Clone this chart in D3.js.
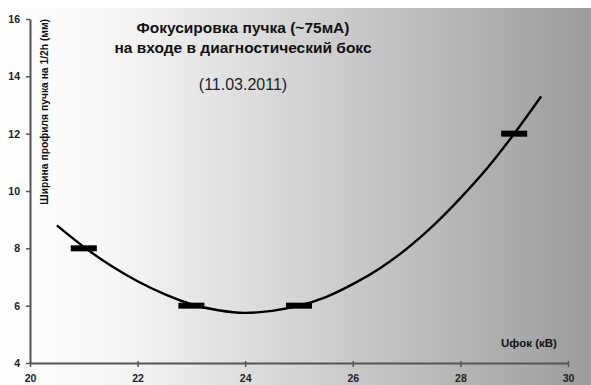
<!DOCTYPE html>
<html>
<head>
<meta charset="utf-8">
<script src="https://cdn.jsdelivr.net/npm/d3@7"></script>
<style>
  html, body { margin: 0; padding: 0; background: #fff; }
  svg { display: block; }
</style>
</head>
<body>
<svg id="chart"></svg>
<script>
// measured points (width of beam profile at 1/2h)
const pointX = [21, 23, 25, 29];
const pointY = [8, 6, 6, 12];

// fitted trend curve
const curveX = [20.5, 21, 21.5, 22, 22.5, 23, 23.5, 24, 24.5, 25, 25.5, 26, 26.5, 27, 27.5, 28, 28.5, 29, 29.5];
const curveY = [8.8, 8.05, 7.4, 6.85, 6.4, 6.05, 5.84, 5.75, 5.82, 6.0, 6.3, 6.75, 7.3, 7.98, 8.8, 9.75, 10.8, 12.0, 13.3];

const xTicks = [20, 22, 24, 26, 28, 30];
const yTicks = [4, 6, 8, 10, 12, 14, 16];

const titleLines = ['Фокусировка пучка (~75мА)', 'на входе в диагностический бокс'];
const dateLabel = '(11.03.2011)';
const yLabel = 'Ширина профиля пучка на 1/2h (мм)';
const xLabel = 'Uфок (кВ)';

const W = 591, H = 385;
const FONT = "'Liberation Sans', Arial, sans-serif";

const svg = d3.select('#chart').attr('width', W).attr('height', H);
const defs = svg.append('defs');

const grad = defs.append('linearGradient')
  .attr('id', 'bg').attr('x1', '0%').attr('x2', '100%').attr('y1', '0%').attr('y2', '0%');
grad.append('stop').attr('offset', '0%').attr('stop-color', '#ffffff');
grad.append('stop').attr('offset', '20%').attr('stop-color', '#f6f6f6');
grad.append('stop').attr('offset', '100%').attr('stop-color', '#9c9c9c');

// background panel
svg.append('rect')
  .attr('x', 0).attr('y', 8).attr('width', W).attr('height', H - 8)
  .attr('fill', 'url(#bg)');

const x = d3.scaleLinear().domain([20, 30]).range([30, 568]);
const y = d3.scaleLinear().domain([4, 16]).range([363, 19]);

// X axis
svg.append('g')
  .attr('transform', `translate(0,${y(4)})`)
  .call(d3.axisBottom(x).tickValues(xTicks).tickSize(4).tickPadding(8).tickSizeOuter(0))
  .call(g => g.select('.domain').attr('stroke', '#555').attr('stroke-width', 2))
  .call(g => g.selectAll('.tick line').attr('stroke', '#555').attr('stroke-width', 1.5).attr('y1', -2))
  .call(g => g.selectAll('.tick text')
    .attr('fill', '#222').attr('font-family', FONT).attr('font-size', '10.5px').attr('font-weight', 'bold'));

// Y axis
svg.append('g')
  .attr('transform', `translate(${x(20)},0)`)
  .call(d3.axisLeft(y).tickValues(yTicks).tickSize(4).tickPadding(6).tickSizeOuter(0))
  .call(g => g.select('.domain').attr('stroke', '#555').attr('stroke-width', 2))
  .call(g => g.selectAll('.tick line').attr('stroke', '#555').attr('stroke-width', 1.5))
  .call(g => g.selectAll('.tick text')
    .attr('fill', '#222').attr('font-family', FONT).attr('font-size', '10.5px').attr('font-weight', 'bold'));

// trend curve
const curveData = curveX.map((v, i) => [v, curveY[i]]);
const line = d3.line()
  .x(d => x(d[0]))
  .y(d => y(d[1]))
  .curve(d3.curveMonotoneX);

svg.append('path')
  .datum(curveData)
  .attr('fill', 'none')
  .attr('stroke', '#000')
  .attr('stroke-width', 2.4)
  .attr('d', line);

// point markers (thick dashes)
svg.append('g')
  .selectAll('rect')
  .data(pointX.map((v, i) => [v, pointY[i]]))
  .join('rect')
  .attr('x', d => x(d[0]) - 13)
  .attr('y', d => y(d[1]) - 3)
  .attr('width', 26)
  .attr('height', 6)
  .attr('fill', '#000');

// titles
svg.append('g')
  .selectAll('text')
  .data(titleLines)
  .join('text')
  .attr('x', 243)
  .attr('y', (d, i) => 33 + i * 20)
  .attr('text-anchor', 'middle')
  .attr('font-family', FONT)
  .attr('font-size', '15.5px')
  .attr('font-weight', 'bold')
  .attr('fill', '#111')
  .text(d => d);

svg.append('text')
  .attr('x', 243).attr('y', 90)
  .attr('text-anchor', 'middle')
  .attr('font-family', FONT)
  .attr('font-size', '16px')
  .attr('fill', '#222')
  .text(dateLabel);

// axis titles
svg.append('text')
  .attr('transform', `translate(48,19) rotate(-90)`)
  .attr('text-anchor', 'end')
  .attr('font-family', FONT)
  .attr('font-size', '10.3px')
  .attr('font-weight', 'bold')
  .attr('fill', '#111')
  .text(yLabel);

svg.append('text')
  .attr('x', 529).attr('y', 347)
  .attr('text-anchor', 'middle')
  .attr('font-family', FONT)
  .attr('font-size', '11.5px')
  .attr('font-weight', 'bold')
  .attr('fill', '#111')
  .text(xLabel);
</script>
</body>
</html>
